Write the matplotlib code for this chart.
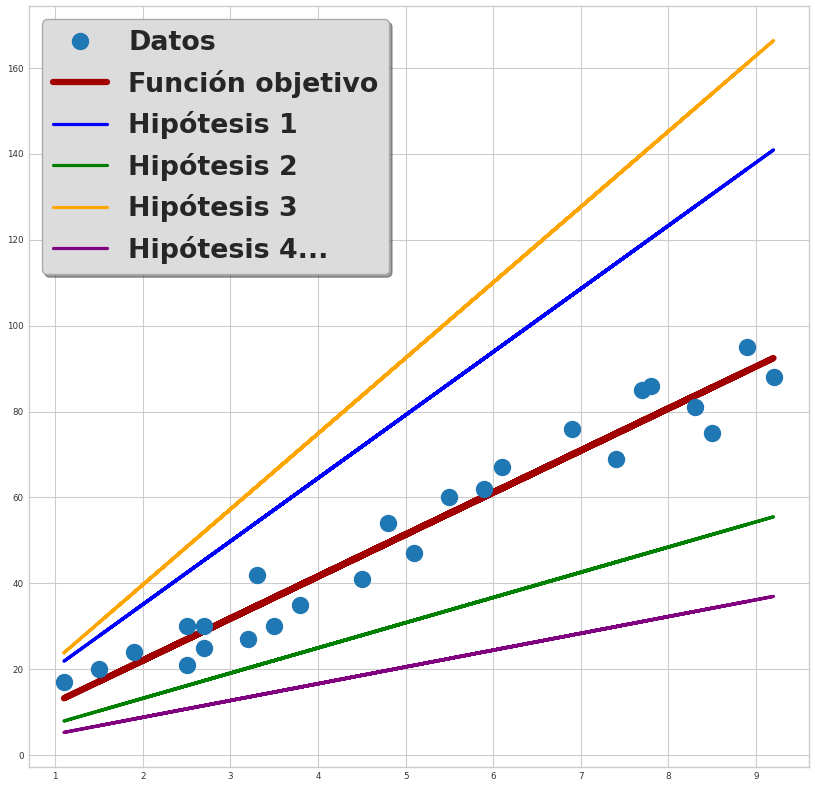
import matplotlib
matplotlib.use("Agg")
import matplotlib.pyplot as plt
from matplotlib.font_manager import FontProperties
import numpy as np

hours = [2.5, 5.1, 3.2, 8.5, 3.5, 1.5, 9.2, 5.5, 8.3, 2.7, 7.7, 5.9, 4.5,
         3.3, 1.1, 8.9, 2.5, 1.9, 6.1, 7.4, 2.7, 4.8, 3.8, 6.9, 7.8]
scores = [21, 47, 27, 75, 30, 20, 88, 60, 81, 25, 85, 62, 41,
          42, 17, 95, 30, 24, 67, 69, 30, 54, 35, 76, 86]

line_labels = ["Función objetivo", "Hipótesis 1", "Hipótesis 2", "Hipótesis 3", "Hipótesis 4..."]
intercepts = [2.48, 5.7, 1.49, 4.47, 0.99]
slopes = [9.78, 14.7, 5.87, 17.6, 3.91]
colors = ["#a00000", "blue", "green", "orange", "purple"]
widths = [4.5, 2.3, 2.3, 2.3, 2.3]

plt.style.use("seaborn-v0_8-whitegrid")
plt.rcParams["font.family"] = ["DejaVu Sans"]
fig = plt.figure(figsize=(8.15, 7.88), dpi=100)
ax = fig.add_axes([28.5/815, 21/788, 780.5/815, 761/788])

x = np.array(hours)
ax.plot(hours, scores, "o", color="#1f77b4", markersize=11.5, label="Datos", zorder=3)
for lab, b0, b1, c, w in zip(line_labels, intercepts, slopes, colors, widths):
    ax.plot(x, b0 + b1 * x, color=c, linewidth=w, label=lab, solid_capstyle="round")

ax.tick_params(labelsize=6.3, labelcolor="#333333")
for s in ax.spines.values():
    s.set_visible(True)
    s.set_color("#cccccc")

fp = FontProperties(family="DejaVu Sans", weight="bold", size=19.4)
leg = ax.legend(loc="upper left", prop=fp, frameon=True,
                shadow=True, facecolor="#dcdcdc", edgecolor="#aaaaaa", fancybox=True,
                framealpha=1, borderpad=0.4, labelspacing=0.5)
fig.savefig("out.png", dpi=100)
